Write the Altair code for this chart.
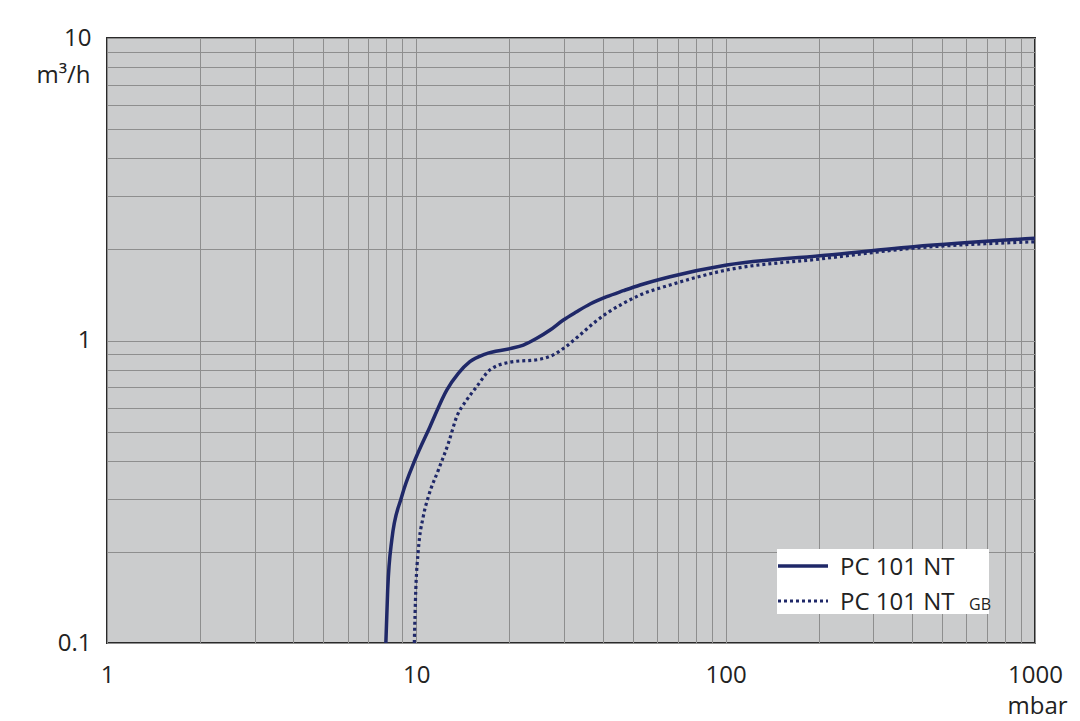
import altair as alt
import pandas as pd

series_names = ["PC 101 NT", "PC 101 NT GB"]

solid_p = [7.97, 8.08, 8.33, 8.97, 9.9, 11.07, 12.54, 13.67, 14.9, 16.7, 20.1, 22.18, 24.51,
           27.06, 29.87, 33.0, 36.45, 41.27, 46.7, 52.9, 66.1, 100.8, 201.9, 404.5, 1000]
solid_q = [0.1, 0.15, 0.219, 0.305, 0.403, 0.519, 0.686, 0.779, 0.851, 0.902, 0.94, 0.966, 1.017,
           1.083, 1.169, 1.245, 1.32, 1.396, 1.461, 1.526, 1.625, 1.777, 1.906, 2.042, 2.178]

gb_p = [9.85, 9.96, 10.15, 10.53, 10.94, 11.78, 12.69, 13.51, 14.55, 15.68, 17.31, 20.1, 25.1,
        27.7, 30.6, 33.8, 37.35, 41.27, 46.7, 52.9, 66.1, 100.8, 201.9, 404.5, 1000]
gb_q = [0.1, 0.15, 0.203, 0.262, 0.305, 0.373, 0.457, 0.56, 0.636, 0.704, 0.80, 0.848, 0.867,
        0.896, 0.959, 1.043, 1.14, 1.23, 1.327, 1.414, 1.526, 1.71, 1.86, 2.018, 2.12]

x_grid = [1, 2, 3, 4, 5, 6, 7, 8, 9, 10, 20, 30, 40, 50, 60, 70, 80, 90,
          100, 200, 300, 400, 500, 600, 700, 800, 900, 1000]
y_grid = [0.1, 0.2, 0.3, 0.4, 0.5, 0.6, 0.7, 0.8, 0.9, 1, 2, 3, 4, 5, 6, 7, 8, 9, 10]

df = pd.concat([
    pd.DataFrame({"p": solid_p, "q": solid_q, "s": series_names[0]}),
    pd.DataFrame({"p": gb_p, "q": gb_q, "s": series_names[1]}),
])

FONT = "Open Sans"
TXT = "#222222"
NAVY = "#1f2868"

xenc = alt.X("p:Q", scale=alt.Scale(type="log", domain=[1, 1000], nice=False),
             axis=alt.Axis(values=x_grid,
                           labelExpr="(datum.value == 1 || datum.value == 10 || datum.value == 100 || datum.value == 1000) ? '' + datum.value : ''",
                           title="mbar", titleAngle=0, titleAlign="center", titleBaseline="alphabetic",
                           titleX=930, titleY=70, labelPadding=20))
yenc = alt.Y("q:Q", scale=alt.Scale(type="log", domain=[0.1, 10], nice=False),
             axis=alt.Axis(values=y_grid,
                           labelExpr="(datum.value == 0.1 || datum.value == 1 || datum.value == 10) ? '' + datum.value : ''",
                           title="m³/h", titleAngle=0, titleAlign="right", titleBaseline="middle",
                           titleX=-17, titleY=37, labelPadding=16))

solid = alt.Chart(df).transform_filter(alt.datum.s == series_names[0]).mark_line(
    color=NAVY, strokeWidth=3.5, interpolate="monotone", clip=True
).encode(x=xenc, y=yenc)

gb = alt.Chart(df).transform_filter(alt.datum.s == series_names[1]).mark_line(
    color=NAVY, strokeWidth=3.2, strokeDash=[3, 3], interpolate="monotone", clip=True
).encode(x=xenc, y=yenc)

one = pd.DataFrame({"a": [0]})
leg_box = alt.Chart(one).mark_rect(fill="white").encode(
    x=alt.value(670), x2=alt.value(882), y=alt.value(511), y2=alt.value(576))
leg_rule1 = alt.Chart(one).mark_rule(color=NAVY, strokeWidth=3.5).encode(
    x=alt.value(671), x2=alt.value(721), y=alt.value(528))
leg_rule2 = alt.Chart(one).mark_rule(color=NAVY, strokeWidth=3.2, strokeDash=[3, 3]).encode(
    x=alt.value(671), x2=alt.value(721), y=alt.value(563))
leg_t1 = alt.Chart(pd.DataFrame({"n": [series_names[0]]})).mark_text(
    align="left", baseline="alphabetic", font=FONT, fontSize=24, color=TXT
).encode(text="n:N", x=alt.value(733), y=alt.value(537))
leg_t2 = alt.Chart(pd.DataFrame({"n": [series_names[1].split(" GB")[0]]})).mark_text(
    align="left", baseline="alphabetic", font=FONT, fontSize=24, color=TXT
).encode(text="n:N", x=alt.value(733), y=alt.value(572))
leg_t3 = alt.Chart(pd.DataFrame({"n": ["GB"]})).mark_text(
    align="left", baseline="alphabetic", font=FONT, fontSize=16, color=TXT
).encode(text="n:N", x=alt.value(862), y=alt.value(572))

chart = alt.layer(solid, gb, leg_box, leg_rule1, leg_rule2, leg_t1, leg_t2, leg_t3).properties(
    width=928, height=605,
    autosize=alt.AutoSizeParams(type="none"),
    padding={"left": 99, "top": 30, "right": 37, "bottom": 78},
    background="white",
).configure_view(
    fill="#cbcccd", stroke="#2a2a2a", strokeWidth=2
).configure_axis(
    grid=True, gridColor="#8e8e8e", gridWidth=1, gridOpacity=1,
    ticks=False, domain=False, labelOverlap=False, labelFlush=False,
    labelFont=FONT, labelFontSize=24, labelColor=TXT,
    titleFont=FONT, titleFontSize=24, titleColor=TXT, titleFontWeight="normal",
)

chart.save("out.html", embed_options={"renderer": "svg", "actions": False})
